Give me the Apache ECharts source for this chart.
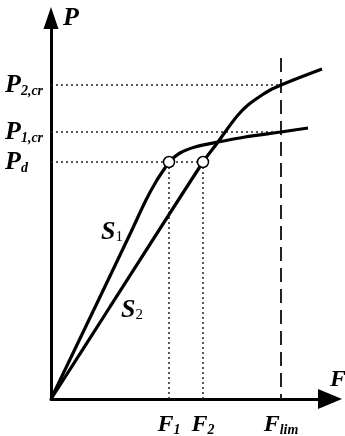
<!DOCTYPE html>
<html>
<head>
<meta charset="utf-8">
<script src="https://cdn.jsdelivr.net/npm/echarts@6/dist/echarts.min.js"></script>
<style>
html, body { margin: 0; padding: 0; background: #fff; }
#chart { width: 345px; height: 436px; }
</style>
</head>
<body>
<div id="chart"></div>
<script>
// valores característicos (unidades arbitrarias del esquema)
const F1 = 118, F2 = 152, FLIM = 230
const PD = 237, P1CR = 267, P2CR = 314
const FLIM_TOP = 341

const xTicks = [F1, F2, FLIM]
const xTickNames = [['F', '1'], ['F', '2'], ['F', 'lim']]
const yTicks = [PD, P1CR, P2CR]
const yTickNames = [['P', 'd'], ['P', '1,cr'], ['P', '2,cr']]

// curvas [F, P]
const s1 = [[0, 0], [48, 100], [80, 167], [95, 199], [106, 219], [114, 231], [118, 237],
  [129, 246], [144, 252], [167, 257], [194, 262], [230, 267], [257, 271]]
const s2 = [[0, 0], [57, 89], [152, 237], [167, 257], [177, 271], [187, 284], [197, 294],
  [211, 304], [221, 310], [230, 314], [250, 322], [271, 330]]
const s1LabelAt = 2 // punto donde se pone "S1"
const s2LabelAt = 1

const SERIF = 'Liberation Serif'
const txt = { fontFamily: SERIF, fontWeight: 'bold', fontStyle: 'italic', color: '#000' }

function rich(key, pair) {
  return '{' + key + 'm|' + pair[0] + '}{' + key + 's|' + pair[1] + '}'
}

const guideStyle = { color: '#222', width: 1.5, type: [2, 3] }
const guides = [
  [[0, PD], [F2, PD]],
  [[0, P1CR], [FLIM, P1CR]],
  [[0, P2CR], [FLIM, P2CR]],
  [[F1, PD], [F1, 0]],
  [[F2, PD], [F2, 0]]
]

function curve(data, labelAt, name, pos, dist) {
  return {
    type: 'line',
    data: data.map((p, i) => i === labelAt ? {
      value: p,
      label: {
        show: true, position: pos, distance: dist,
        formatter: rich('c', name),
        rich: {
          cm: Object.assign({}, txt, { fontSize: 26, lineHeight: 26 }),
          cs: { fontFamily: SERIF, fontSize: 15, color: '#000', verticalAlign: 'bottom', lineHeight: 12 }
        }
      }
    } : p),
    smooth: 0.3,
    showSymbol: true,
    symbol: 'circle',
    symbolSize: 0,
    lineStyle: { color: '#000', width: 3.2 },
    z: 3
  }
}

const chart = echarts.init(document.getElementById('chart'))
chart.setOption({
  animation: false,
  grid: { left: 51, right: 15, top: 18, bottom: 37, containLabel: false, outerBoundsMode: 'none' },
  xAxis: {
    type: 'value', min: 0, max: 279,
    name: 'F', nameLocation: 'end', nameGap: 0, nameMoveOverlap: false,
    nameTextStyle: Object.assign({}, txt, { fontSize: 24, align: 'left', verticalAlign: 'bottom', lineHeight: 22, padding: [0, 0, 8, 0] }),
    axisLine: { show: true, onZero: false, symbol: ['none', 'triangle'], symbolSize: [20, 24], lineStyle: { color: '#000', width: 3 } },
    axisTick: { show: false },
    splitLine: { show: false },
    axisLabel: {
      customValues: xTicks, margin: 14, hideOverlap: false,
      formatter: v => rich('x', xTickNames[xTicks.indexOf(v)]),
      rich: {
        xm: Object.assign({}, txt, { fontSize: 24, lineHeight: 24 }),
        xs: Object.assign({}, txt, { fontSize: 14, lineHeight: 10, verticalAlign: 'bottom' })
      }
    }
  },
  yAxis: {
    type: 'value', min: 0, max: 381,
    name: 'P', nameLocation: 'end', nameGap: 0, nameMoveOverlap: false,
    nameTextStyle: Object.assign({}, txt, { fontSize: 26, align: 'left', verticalAlign: 'middle', padding: [0, 0, 0, 12] }),
    axisLine: { show: true, symbol: ['none', 'triangle'], symbolSize: [15, 22], lineStyle: { color: '#000', width: 3 } },
    axisTick: { show: false },
    splitLine: { show: false },
    axisLabel: {
      customValues: yTicks, margin: 46, align: 'left', hideOverlap: false,
      formatter: v => rich('y', yTickNames[yTicks.indexOf(v)]),
      rich: {
        ym: Object.assign({}, txt, { fontSize: 26, lineHeight: 26 }),
        ys: Object.assign({}, txt, { fontSize: 14, lineHeight: 10, verticalAlign: 'bottom' })
      }
    }
  },
  series: guides.map(g => ({
    type: 'line', data: g, symbol: 'none', silent: true,
    lineStyle: guideStyle, z: 1
  })).concat([
    {
      type: 'line', data: [[FLIM, FLIM_TOP], [FLIM, 0]], symbol: 'none', silent: true,
      lineStyle: { color: '#222', width: 2, type: [14, 7] }, z: 1
    },
    curve(s1, s1LabelAt, ['S', '1'], 'left', 8),
    curve(s2, s2LabelAt, ['S', '2'], 'right', 13),
    {
      type: 'scatter', data: [[F1, PD], [F2, PD]],
      symbol: 'circle', symbolSize: 11,
      itemStyle: { color: '#fff', borderColor: '#000', borderWidth: 1.5, opacity: 1 },
      z: 5
    }
  ])
})
window.addEventListener('resize', () => chart.resize())
</script>
</body>
</html>
